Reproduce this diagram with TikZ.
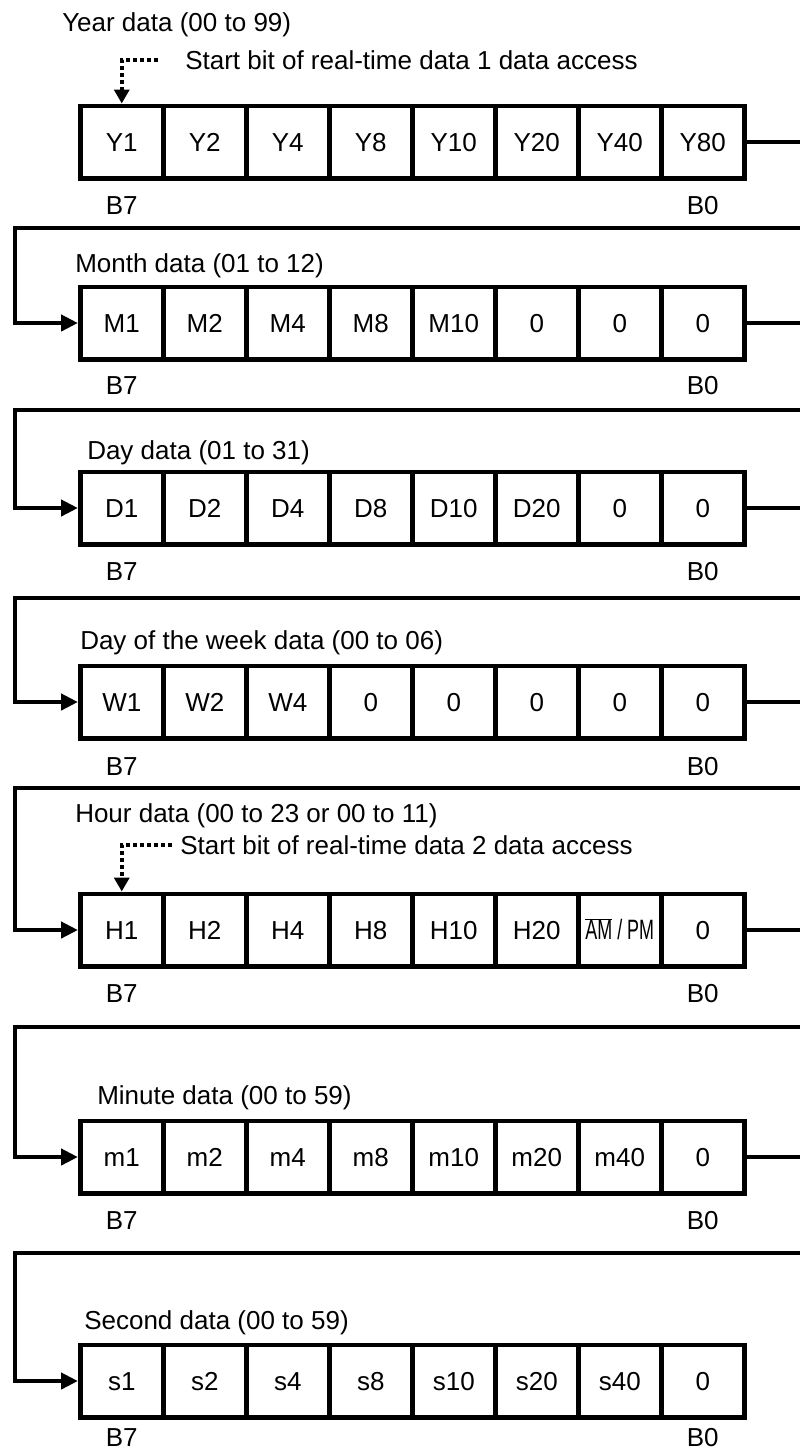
\documentclass[tikz,border=0pt]{standalone}
\usepackage{fontspec}
\usepackage{graphicx}
\setmainfont{Liberation Sans}
\usetikzlibrary{arrows.meta}
\newcommand{\ampm}{\scalebox{0.64}[1]{\fontsize{28}{30}\selectfont$\overline{\mbox{AM}}$ / PM}}
\begin{document}
\begin{tikzpicture}[x=1pt,y=-1pt,line width=4.5pt,
    txt/.style={inner sep=0pt,text height=19pt,text depth=0pt,font=\fontsize{26}{30}\selectfont},
    bit/.style={txt,draw,minimum width=83pt,minimum height=72.5pt},
    link/.style={-{Triangle[width=16pt,length=17pt]}},
    startbit/.style={line width=4pt,dash pattern=on 4pt off 3pt,-{Triangle[width=15pt,length=14pt]}}]
        \useasboundingbox (0,0) rectangle (800,1452);
        \foreach \r/\yc/\by/\tx/\ty/\ttl/\bits in {%
            Y/142/205/60/22/{Year data (00 to 99)}/{Y1,Y2,Y4,Y8,Y10,Y20,Y40,Y80},
            M/323/385/73/263/{Month data (01 to 12)}/{M1,M2,M4,M8,M10,0,0,0},
            D/508/571/85/450/{Day data (01 to 31)}/{D1,D2,D4,D8,D10,D20,0,0},
            W/702/766/78/640/{Day of the week data (00 to 06)}/{W1,W2,W4,0,0,0,0,0},
            H/930/993/73/813/{Hour data (00 to 23 or 00 to 11)}/{H1,H2,H4,H8,H10,H20,\ampm,0},
            m/1157/1220/95/1095/{Minute data (00 to 59)}/{m1,m2,m4,m8,m10,m20,m40,0},
            s/1381/1437/82/1320/{Second data (00 to 59)}/{s1,s2,s4,s8,s10,s20,s40,0}}{%
            \foreach \b [count=\i] in \bits
                \node[bit] (\r-\i) at ({121.75+83*(\i-1)},\yc) {\b};
            \node[txt,anchor=west] (\r-title) at (\tx,\ty) {\ttl};
            \node[txt] (\r-msb) at (121.75,\by) {B7};
            \node[txt] (\r-lsb) at (702.75,\by) {B0};
        }
        \foreach \a/\b/\ly in {Y/M/228,M/D/410,D/W/598,W/H/788,H/m/1027,m/s/1253}{%
            \coordinate (\a-out) at (804,\ly);
            \coordinate (\a-in) at (15,\ly);
            \draw[link] (\a-8.east) -| (\a-out) -- (\a-in) |- (\b-1.west);
        }
        \node[txt,anchor=west] (st1) at (183,60) {Start bit of real-time data 1 data access};
        \node[txt,anchor=west] (st2) at (178,845) {Start bit of real-time data 2 data access};
        \draw[startbit] ([xshift=-25pt]st1.west) -| (Y-1.north);
        \draw[startbit] ([xshift=-6pt]st2.west) -| (H-1.north);
    \end{tikzpicture}
\end{document}
